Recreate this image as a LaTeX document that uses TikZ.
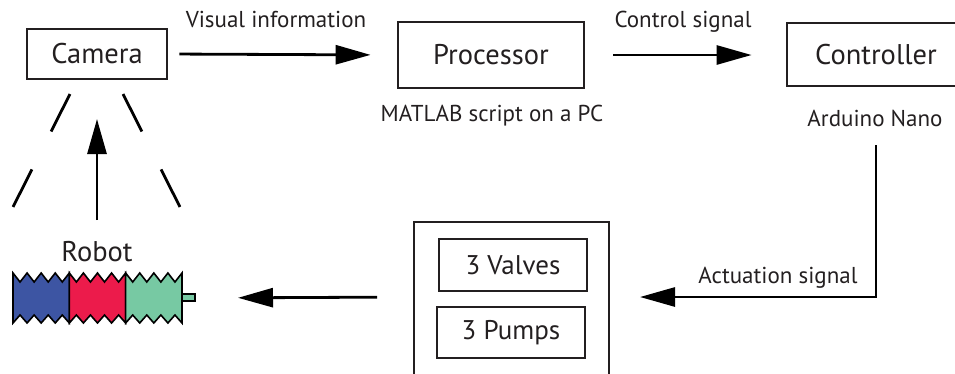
\documentclass[tikz,border=0pt]{standalone}
\usepackage{fontspec}
\setmainfont{PT Sans}
\usetikzlibrary{arrows.meta}
\definecolor{ink}{HTML}{231F20}
\definecolor{segblue}{HTML}{3D55A3}
\definecolor{segred}{HTML}{EC1B4B}
\definecolor{seggreen}{HTML}{77C9A3}
\tikzset{
  mainbox/.style={draw=ink, line width=2.8pt, inner sep=0pt, text=ink, font=\fontsize{28.5}{32}\selectfont},
  subbox/.style={draw=ink, line width=1.7pt, inner sep=0pt, text=ink, font=\fontsize{27}{31}\selectfont},
  outerbox/.style={draw=ink, line width=2.2pt},
  edgelabel/.style={text=ink, font=\fontsize{23}{27}\selectfont, inner sep=0pt, anchor=base},
  flow/.style={draw=black, line width=2.8pt, -{Triangle[length=35pt,width=19pt]}},
  beam/.style={draw=black, line width=2.8pt, dash pattern=on 42pt off 42.5pt},
  robotline/.style={draw=black, line width=1.6pt, line join=miter},
}
% one corrugated body segment: left x, colour
\newcommand\robotseg[2]{%
  \filldraw[fill=#2, robotline] (#1,273)
    \foreach \k in {1,...,4}{ -- ({#1+(\k-0.5)*14.08},282) -- ({#1+\k*14.08},273)}
    -- ({#1+4*14.08},323)
    \foreach \k in {4,...,1}{ -- ({#1+(\k-0.5)*14.08},315) -- ({#1+(\k-1)*14.08},323)}
    -- cycle;}
\begin{document}
\begin{tikzpicture}[x=1pt,y=-1pt]
\useasboundingbox (0,0) rectangle (955,373);

% main blocks
\node[mainbox, minimum width=140pt, minimum height=50pt] (camera) at (97,54) {Camera};
\node[mainbox, minimum width=186pt, minimum height=66pt] (proc) at (491,55) {Processor};
\node[mainbox, minimum width=178pt, minimum height=63pt] (ctrl) at (876,54.5) {Controller};

\node[edgelabel] (matlab) at (492,121) {MATLAB script on a PC};
\node[edgelabel] (arduino) at (875,126) {Arduino Nano};

% actuator block
\draw[outerbox] (414,390) -- (414,222) -- (609,222) -- (609,390);
\node[subbox, minimum width=148pt, minimum height=52pt] (valves) at (513,265) {3 Valves};
\node[subbox, minimum width=148pt, minimum height=51pt] (pumps) at (511,332.5) {3 Pumps};
\coordinate (act) at (511.5,297);

% robot
\node[text=ink, font=\fontsize{28.5}{32}\selectfont, inner sep=0pt] (robotlbl) at (97,252) {Robot};
\filldraw[fill=seggreen, robotline] (180,294) rectangle (195,301);
\robotseg{13}{segblue}
\robotseg{69.33}{segred}
\robotseg{125.67}{seggreen}
\coordinate (robot) at (182,298);

% signal flow
\draw[flow, shorten <=11pt, shorten >=26pt] (camera.east) -- (proc.west);
\node[edgelabel] (vislbl) at (276,27) {Visual information};
\draw[flow, shorten <=28pt, shorten >=34pt] (proc.east) -- (ctrl.west |- proc.east);
\node[edgelabel] (ctrllbl) at (683,27) {Control signal};
\coordinate (actstart) at (876,145);
\coordinate (acttip) at (640,297);
\draw[flow, line join=miter] (actstart) |- (acttip);
\node[edgelabel] (actlbl) at (778,283) {Actuation signal};
\draw[flow, shorten <=37pt, shorten >=43pt] (act -| 414,0) -- (robot -| 195,0);

% camera field of view and feedback
\coordinate (fovl) at (70,94);
\coordinate (fovr) at (123,94);
\draw[beam] (fovl) -- (13,207);
\draw[beam] (fovr) -- (180,207);
\draw[flow] (97,220) -- (camera.south |- 0,119);
\end{tikzpicture}
\end{document}
